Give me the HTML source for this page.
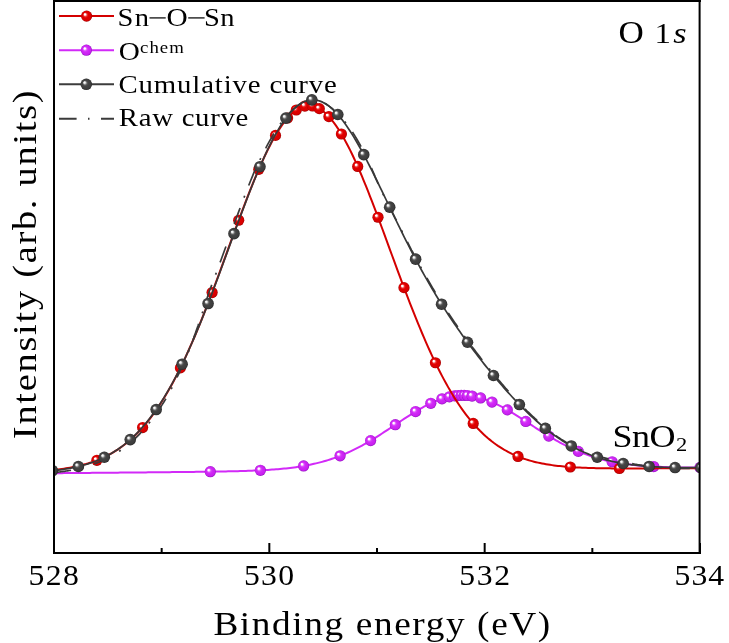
<!DOCTYPE html><html><head><meta charset="utf-8"><style>html,body{margin:0;padding:0;background:#fff;width:729px;height:643px;overflow:hidden}svg{display:block;will-change:transform}</style></head><body><svg width="729" height="643" viewBox="0 0 729 643">
<defs>
<radialGradient id="gr" cx="0.5" cy="0.5" r="0.5" fx="0.32" fy="0.32"><stop offset="0" stop-color="#ffffff"/><stop offset="0.14" stop-color="#ffffff"/><stop offset="0.34" stop-color="#ec3030"/><stop offset="0.5" stop-color="#e00000"/><stop offset="0.85" stop-color="#d80000"/><stop offset="1" stop-color="#a00000"/></radialGradient>
<radialGradient id="gm" cx="0.5" cy="0.5" r="0.5" fx="0.32" fy="0.32"><stop offset="0" stop-color="#ffffff"/><stop offset="0.14" stop-color="#ffffff"/><stop offset="0.34" stop-color="#dc50fa"/><stop offset="0.5" stop-color="#d22af8"/><stop offset="0.85" stop-color="#c820ee"/><stop offset="1" stop-color="#9010c0"/></radialGradient>
<radialGradient id="gb" cx="0.5" cy="0.5" r="0.5" fx="0.32" fy="0.32"><stop offset="0" stop-color="#ffffff"/><stop offset="0.14" stop-color="#f0f0f0"/><stop offset="0.36" stop-color="#606060"/><stop offset="0.5" stop-color="#444444"/><stop offset="0.85" stop-color="#3c3c3c"/><stop offset="1" stop-color="#262626"/></radialGradient>
<clipPath id="clip"><rect x="55" y="2" width="644" height="550"/></clipPath>
</defs>
<rect width="729" height="643" fill="#fff"/>
<g clip-path="url(#clip)">
<path d="M54.0 473.21 L56.0 473.20 L58.0 473.18 L60.0 473.16 L62.0 473.14 L64.0 473.12 L66.0 473.11 L68.0 473.09 L70.0 473.07 L72.0 473.05 L74.0 473.04 L76.0 473.02 L78.0 473.00 L80.0 472.98 L82.0 472.96 L84.0 472.95 L86.0 472.93 L88.0 472.91 L90.0 472.89 L92.0 472.87 L94.0 472.86 L96.0 472.84 L98.0 472.82 L100.0 472.80 L102.0 472.78 L104.0 472.77 L106.0 472.75 L108.0 472.73 L110.0 472.71 L112.0 472.69 L114.0 472.67 L116.0 472.66 L118.0 472.64 L120.0 472.62 L122.0 472.60 L124.0 472.58 L126.0 472.56 L128.0 472.55 L130.0 472.53 L132.0 472.51 L134.0 472.49 L136.0 472.47 L138.0 472.45 L140.0 472.43 L142.0 472.41 L144.0 472.39 L146.0 472.38 L148.0 472.36 L150.0 472.34 L152.0 472.32 L154.0 472.30 L156.0 472.28 L158.0 472.26 L160.0 472.24 L162.0 472.22 L164.0 472.20 L166.0 472.18 L168.0 472.16 L170.0 472.14 L172.0 472.12 L174.0 472.10 L176.0 472.08 L178.0 472.06 L180.0 472.04 L182.0 472.01 L184.0 471.99 L186.0 471.97 L188.0 471.95 L190.0 471.92 L192.0 471.90 L194.0 471.88 L196.0 471.85 L198.0 471.83 L200.0 471.80 L202.0 471.78 L204.0 471.75 L206.0 471.73 L208.0 471.70 L210.0 471.67 L212.0 471.64 L214.0 471.61 L216.0 471.58 L218.0 471.55 L220.0 471.51 L222.0 471.48 L224.0 471.44 L226.0 471.40 L228.0 471.36 L230.0 471.32 L232.0 471.28 L234.0 471.23 L236.0 471.18 L238.0 471.13 L240.0 471.08 L242.0 471.02 L244.0 470.96 L246.0 470.90 L248.0 470.83 L250.0 470.76 L252.0 470.68 L254.0 470.60 L256.0 470.52 L258.0 470.43 L260.0 470.33 L262.0 470.23 L264.0 470.12 L266.0 470.01 L268.0 469.89 L270.0 469.76 L272.0 469.62 L274.0 469.47 L276.0 469.32 L278.0 469.15 L280.0 468.98 L282.0 468.79 L284.0 468.60 L286.0 468.39 L288.0 468.17 L290.0 467.93 L292.0 467.68 L294.0 467.42 L296.0 467.14 L298.0 466.85 L300.0 466.54 L302.0 466.21 L304.0 465.87 L306.0 465.50 L308.0 465.12 L310.0 464.72 L312.0 464.30 L314.0 463.85 L316.0 463.39 L318.0 462.90 L320.0 462.39 L322.0 461.85 L324.0 461.29 L326.0 460.70 L328.0 460.09 L330.0 459.46 L332.0 458.79 L334.0 458.10 L336.0 457.39 L338.0 456.64 L340.0 455.87 L342.0 455.07 L344.0 454.24 L346.0 453.38 L348.0 452.50 L350.0 451.58 L352.0 450.64 L354.0 449.67 L356.0 448.68 L358.0 447.65 L360.0 446.60 L362.0 445.52 L364.0 444.42 L366.0 443.29 L368.0 442.14 L370.0 440.97 L372.0 439.77 L374.0 438.56 L376.0 437.32 L378.0 436.07 L380.0 434.80 L382.0 433.51 L384.0 432.21 L386.0 430.90 L388.0 429.58 L390.0 428.26 L392.0 426.92 L394.0 425.59 L396.0 424.25 L398.0 422.91 L400.0 421.58 L402.0 420.25 L404.0 418.93 L406.0 417.62 L408.0 416.33 L410.0 415.05 L412.0 413.78 L414.0 412.54 L416.0 411.32 L418.0 410.13 L420.0 408.97 L422.0 407.84 L424.0 406.74 L426.0 405.68 L428.0 404.66 L430.0 403.68 L432.0 402.74 L434.0 401.85 L436.0 401.01 L438.0 400.23 L440.0 399.49 L442.0 398.81 L444.0 398.18 L446.0 397.62 L448.0 397.11 L450.0 396.67 L452.0 396.28 L454.0 395.96 L456.0 395.71 L458.0 395.52 L460.0 395.40 L462.0 395.34 L464.0 395.35 L466.0 395.42 L468.0 395.56 L470.0 395.77 L472.0 396.04 L474.0 396.37 L476.0 396.77 L478.0 397.23 L480.0 397.75 L482.0 398.33 L484.0 398.96 L486.0 399.65 L488.0 400.40 L490.0 401.19 L492.0 402.04 L494.0 402.93 L496.0 403.87 L498.0 404.84 L500.0 405.86 L502.0 406.92 L504.0 408.01 L506.0 409.13 L508.0 410.28 L510.0 411.46 L512.0 412.67 L514.0 413.89 L516.0 415.14 L518.0 416.40 L520.0 417.67 L522.0 418.95 L524.0 420.25 L526.0 421.55 L528.0 422.85 L530.0 424.16 L532.0 425.46 L534.0 426.76 L536.0 428.06 L538.0 429.35 L540.0 430.63 L542.0 431.89 L544.0 433.15 L546.0 434.39 L548.0 435.62 L550.0 436.82 L552.0 438.01 L554.0 439.18 L556.0 440.33 L558.0 441.45 L560.0 442.55 L562.0 443.63 L564.0 444.68 L566.0 445.70 L568.0 446.70 L570.0 447.67 L572.0 448.61 L574.0 449.53 L576.0 450.42 L578.0 451.28 L580.0 452.11 L582.0 452.91 L584.0 453.68 L586.0 454.43 L588.0 455.15 L590.0 455.84 L592.0 456.50 L594.0 457.14 L596.0 457.75 L598.0 458.34 L600.0 458.89 L602.0 459.43 L604.0 459.94 L606.0 460.42 L608.0 460.88 L610.0 461.32 L612.0 461.74 L614.0 462.13 L616.0 462.51 L618.0 462.86 L620.0 463.20 L622.0 463.51 L624.0 463.81 L626.0 464.09 L628.0 464.36 L630.0 464.61 L632.0 464.84 L634.0 465.06 L636.0 465.26 L638.0 465.46 L640.0 465.63 L642.0 465.80 L644.0 465.96 L646.0 466.10 L648.0 466.24 L650.0 466.36 L652.0 466.48 L654.0 466.58 L656.0 466.68 L658.0 466.77 L660.0 466.86 L662.0 466.93 L664.0 467.00 L666.0 467.07 L668.0 467.13 L670.0 467.18 L672.0 467.23 L674.0 467.27 L676.0 467.31 L678.0 467.35 L680.0 467.38 L682.0 467.41 L684.0 467.43 L686.0 467.45 L688.0 467.47 L690.0 467.49 L692.0 467.50 L694.0 467.51 L696.0 467.52 L698.0 467.53 L700.0 467.54" fill="none" stroke="#d22af8" stroke-width="2"/>
<circle cx="210.30" cy="471.67" r="5.6" fill="url(#gm)"/>
<circle cx="260.40" cy="470.31" r="5.6" fill="url(#gm)"/>
<circle cx="303.60" cy="465.94" r="5.6" fill="url(#gm)"/>
<circle cx="340.10" cy="455.83" r="5.6" fill="url(#gm)"/>
<circle cx="370.60" cy="440.61" r="5.6" fill="url(#gm)"/>
<circle cx="395.30" cy="424.72" r="5.6" fill="url(#gm)"/>
<circle cx="415.60" cy="411.56" r="5.6" fill="url(#gm)"/>
<circle cx="430.80" cy="403.30" r="5.6" fill="url(#gm)"/>
<circle cx="442.00" cy="398.81" r="5.6" fill="url(#gm)"/>
<circle cx="449.40" cy="396.79" r="5.6" fill="url(#gm)"/>
<circle cx="454.60" cy="395.88" r="5.6" fill="url(#gm)"/>
<circle cx="457.90" cy="395.53" r="5.6" fill="url(#gm)"/>
<circle cx="461.20" cy="395.35" r="5.6" fill="url(#gm)"/>
<circle cx="464.20" cy="395.35" r="5.6" fill="url(#gm)"/>
<circle cx="467.40" cy="395.51" r="5.6" fill="url(#gm)"/>
<circle cx="472.10" cy="396.06" r="5.6" fill="url(#gm)"/>
<circle cx="480.60" cy="397.92" r="5.6" fill="url(#gm)"/>
<circle cx="492.00" cy="402.04" r="5.6" fill="url(#gm)"/>
<circle cx="507.30" cy="409.88" r="5.6" fill="url(#gm)"/>
<circle cx="525.80" cy="421.42" r="5.6" fill="url(#gm)"/>
<circle cx="548.80" cy="436.10" r="5.6" fill="url(#gm)"/>
<circle cx="578.30" cy="451.40" r="5.6" fill="url(#gm)"/>
<circle cx="612.10" cy="461.76" r="5.6" fill="url(#gm)"/>
<circle cx="653.70" cy="466.57" r="5.6" fill="url(#gm)"/>
<circle cx="700.00" cy="467.54" r="5.6" fill="url(#gm)"/>
<path d="M54.0 469.88 L56.0 469.66 L58.0 469.42 L60.0 469.17 L62.0 468.90 L64.0 468.62 L66.0 468.32 L68.0 467.99 L70.0 467.65 L72.0 467.28 L74.0 466.89 L76.0 466.47 L78.0 466.03 L80.0 465.57 L82.0 465.07 L84.0 464.54 L86.0 463.99 L88.0 463.39 L90.0 462.77 L92.0 462.11 L94.0 461.40 L96.0 460.66 L98.0 459.88 L100.0 459.06 L102.0 458.19 L104.0 457.27 L106.0 456.30 L108.0 455.28 L110.0 454.21 L112.0 453.09 L114.0 451.91 L116.0 450.66 L118.0 449.36 L120.0 448.00 L122.0 446.56 L124.0 445.07 L126.0 443.50 L128.0 441.86 L130.0 440.15 L132.0 438.36 L134.0 436.49 L136.0 434.55 L138.0 432.52 L140.0 430.41 L142.0 428.22 L144.0 425.94 L146.0 423.57 L148.0 421.11 L150.0 418.56 L152.0 415.92 L154.0 413.18 L156.0 410.35 L158.0 407.42 L160.0 404.40 L162.0 401.27 L164.0 398.05 L166.0 394.73 L168.0 391.31 L170.0 387.79 L172.0 384.17 L174.0 380.45 L176.0 376.63 L178.0 372.71 L180.0 368.70 L182.0 364.59 L184.0 360.38 L186.0 356.09 L188.0 351.69 L190.0 347.21 L192.0 342.65 L194.0 337.99 L196.0 333.25 L198.0 328.44 L200.0 323.55 L202.0 318.58 L204.0 313.55 L206.0 308.45 L208.0 303.28 L210.0 298.07 L212.0 292.80 L214.0 287.48 L216.0 282.12 L218.0 276.73 L220.0 271.30 L222.0 265.85 L224.0 260.38 L226.0 254.90 L228.0 249.41 L230.0 243.92 L232.0 238.44 L234.0 232.98 L236.0 227.53 L238.0 222.12 L240.0 216.74 L242.0 211.40 L244.0 206.11 L246.0 200.88 L248.0 195.72 L250.0 190.63 L252.0 185.63 L254.0 180.71 L256.0 175.88 L258.0 171.16 L260.0 166.56 L262.0 162.07 L264.0 157.70 L266.0 153.47 L268.0 149.38 L270.0 145.44 L272.0 141.65 L274.0 138.01 L276.0 134.55 L278.0 131.26 L280.0 128.14 L282.0 125.21 L284.0 122.47 L286.0 119.91 L288.0 117.56 L290.0 115.41 L292.0 113.46 L294.0 111.73 L296.0 110.20 L298.0 108.89 L300.0 107.80 L302.0 106.93 L304.0 106.28 L306.0 105.85 L308.0 105.64 L310.0 105.66 L312.0 105.90 L314.0 106.36 L316.0 107.04 L318.0 107.95 L320.0 109.07 L322.0 110.41 L324.0 111.97 L326.0 113.73 L328.0 115.71 L330.0 117.89 L332.0 120.27 L334.0 122.84 L336.0 125.61 L338.0 128.57 L340.0 131.70 L342.0 135.02 L344.0 138.50 L346.0 142.15 L348.0 145.95 L350.0 149.91 L352.0 154.01 L354.0 158.25 L356.0 162.62 L358.0 167.12 L360.0 171.73 L362.0 176.45 L364.0 181.27 L366.0 186.19 L368.0 191.19 L370.0 196.28 L372.0 201.43 L374.0 206.65 L376.0 211.92 L378.0 217.24 L380.0 222.61 L382.0 228.01 L384.0 233.43 L386.0 238.87 L388.0 244.33 L390.0 249.79 L392.0 255.25 L394.0 260.70 L396.0 266.14 L398.0 271.56 L400.0 276.95 L402.0 282.31 L404.0 287.63 L406.0 292.91 L408.0 298.14 L410.0 303.31 L412.0 308.43 L414.0 313.49 L416.0 318.48 L418.0 323.40 L420.0 328.24 L422.0 333.01 L424.0 337.70 L426.0 342.30 L428.0 346.82 L430.0 351.25 L432.0 355.59 L434.0 359.84 L436.0 363.99 L438.0 368.05 L440.0 372.01 L442.0 375.88 L444.0 379.64 L446.0 383.31 L448.0 386.87 L450.0 390.34 L452.0 393.71 L454.0 396.97 L456.0 400.14 L458.0 403.21 L460.0 406.19 L462.0 409.06 L464.0 411.84 L466.0 414.53 L468.0 417.12 L470.0 419.62 L472.0 422.02 L474.0 424.34 L476.0 426.57 L478.0 428.72 L480.0 430.78 L482.0 432.75 L484.0 434.65 L486.0 436.47 L488.0 438.21 L490.0 439.87 L492.0 441.47 L494.0 442.99 L496.0 444.44 L498.0 445.83 L500.0 447.15 L502.0 448.41 L504.0 449.61 L506.0 450.75 L508.0 451.83 L510.0 452.86 L512.0 453.84 L514.0 454.76 L516.0 455.64 L518.0 456.47 L520.0 457.26 L522.0 458.00 L524.0 458.71 L526.0 459.37 L528.0 460.00 L530.0 460.59 L532.0 461.14 L534.0 461.66 L536.0 462.16 L538.0 462.62 L540.0 463.05 L542.0 463.46 L544.0 463.84 L546.0 464.20 L548.0 464.53 L550.0 464.84 L552.0 465.13 L554.0 465.41 L556.0 465.66 L558.0 465.90 L560.0 466.11 L562.0 466.32 L564.0 466.51 L566.0 466.68 L568.0 466.85 L570.0 467.00 L572.0 467.14 L574.0 467.27 L576.0 467.38 L578.0 467.49 L580.0 467.59 L582.0 467.69 L584.0 467.77 L586.0 467.85 L588.0 467.92 L590.0 467.98 L592.0 468.04 L594.0 468.09 L596.0 468.14 L598.0 468.18 L600.0 468.22 L602.0 468.26 L604.0 468.29 L606.0 468.31 L608.0 468.34 L610.0 468.36 L612.0 468.38 L614.0 468.39 L616.0 468.41 L618.0 468.42 L620.0 468.43 L622.0 468.43 L624.0 468.44 L626.0 468.44 L628.0 468.44 L630.0 468.44 L632.0 468.44 L634.0 468.44 L636.0 468.44 L638.0 468.44 L640.0 468.43 L642.0 468.43 L644.0 468.42 L646.0 468.41 L648.0 468.41 L650.0 468.40 L652.0 468.39 L654.0 468.38 L656.0 468.37 L658.0 468.36 L660.0 468.35 L662.0 468.34 L664.0 468.33 L666.0 468.32 L668.0 468.31 L670.0 468.30 L672.0 468.29 L674.0 468.27 L676.0 468.26 L678.0 468.25 L680.0 468.24 L682.0 468.23 L684.0 468.21 L686.0 468.20 L688.0 468.19 L690.0 468.18 L692.0 468.16 L694.0 468.15 L696.0 468.14 L698.0 468.12 L700.0 468.11" fill="none" stroke="#d40000" stroke-width="2"/>
<circle cx="96.90" cy="460.32" r="5.6" fill="url(#gr)"/>
<circle cx="142.60" cy="427.55" r="5.6" fill="url(#gr)"/>
<circle cx="180.40" cy="367.89" r="5.6" fill="url(#gr)"/>
<circle cx="212.10" cy="292.53" r="5.6" fill="url(#gr)"/>
<circle cx="238.70" cy="220.23" r="5.6" fill="url(#gr)"/>
<circle cx="258.80" cy="169.31" r="5.6" fill="url(#gr)"/>
<circle cx="275.50" cy="135.40" r="5.6" fill="url(#gr)"/>
<circle cx="287.60" cy="118.02" r="5.6" fill="url(#gr)"/>
<circle cx="296.30" cy="109.99" r="5.6" fill="url(#gr)"/>
<circle cx="304.90" cy="106.06" r="5.6" fill="url(#gr)"/>
<circle cx="312.60" cy="106.01" r="5.6" fill="url(#gr)"/>
<circle cx="319.30" cy="108.66" r="5.6" fill="url(#gr)"/>
<circle cx="328.90" cy="116.66" r="5.6" fill="url(#gr)"/>
<circle cx="341.40" cy="134.00" r="5.6" fill="url(#gr)"/>
<circle cx="357.70" cy="166.44" r="5.6" fill="url(#gr)"/>
<circle cx="378.00" cy="217.24" r="5.6" fill="url(#gr)"/>
<circle cx="404.00" cy="287.63" r="5.6" fill="url(#gr)"/>
<circle cx="435.40" cy="362.76" r="5.6" fill="url(#gr)"/>
<circle cx="473.20" cy="423.43" r="5.6" fill="url(#gr)"/>
<circle cx="518.00" cy="456.47" r="5.6" fill="url(#gr)"/>
<circle cx="570.30" cy="467.02" r="5.6" fill="url(#gr)"/>
<circle cx="619.40" cy="468.42" r="5.6" fill="url(#gr)"/>
<path d="M54.2 472.49 L55.2 472.40 L56.2 472.30 L57.2 472.19 L58.2 472.08 L59.2 471.97 L60.3 471.85 L61.3 471.72 L62.3 471.59 L63.3 471.46 L64.3 471.31 L65.3 471.17 L66.3 471.01 L67.3 470.85 L68.4 470.69 L69.4 470.52 L70.4 470.34 L71.4 470.15 L72.4 469.96 L73.4 469.77 L74.4 469.56 L75.4 469.35 L76.5 469.13 L77.5 468.90 L78.5 468.67 L79.5 468.43 L80.5 468.18 L81.5 467.92 L82.6 467.66 L83.6 467.38 L84.6 467.10 L85.6 466.81 L86.6 466.51 L87.6 466.20 L88.7 465.88 L89.7 465.56 L90.7 465.22 L91.7 464.87 L92.7 464.52 L93.8 464.15 L94.8 463.77 L95.8 463.39 L96.8 462.99 L97.8 462.58 L98.9 462.16 L99.9 461.73 L100.9 461.28 L101.9 460.84 L102.9 460.38 L104.0 459.91 L105.0 459.43 L106.0 458.93 L107.0 458.42 L108.1 457.90 L109.1 457.37 L110.1 456.82 L111.2 456.26 L112.2 455.68 L113.2 455.09 L114.2 454.48 L115.3 453.86 L116.3 453.23 L117.3 452.58 L118.4 451.91 L119.4 451.23 L120.4 450.53 L121.4 449.82 L122.5 449.09 L123.5 448.34 L124.5 447.57 L125.6 446.79 L126.6 445.99 L127.6 445.18 L128.6 444.34 L129.7 443.49 L130.7 442.62 L131.7 441.73 L132.7 440.81 L133.8 439.86 L134.8 438.90 L135.8 437.92 L136.8 436.92 L137.8 435.90 L138.8 434.86 L139.8 433.80 L140.8 432.72 L141.8 431.62 L142.8 430.50 L143.8 429.36 L144.8 428.20 L145.9 427.01 L146.9 425.81 L147.9 424.59 L148.9 423.34 L149.9 422.07 L150.9 420.78 L151.9 419.47 L152.9 418.14 L153.9 416.79 L154.9 415.41 L155.9 414.01 L156.9 412.59 L157.9 411.14 L158.9 409.67 L159.9 408.18 L160.9 406.67 L161.9 405.13 L162.9 403.57 L163.9 401.99 L164.9 400.38 L165.9 398.75 L166.9 397.10 L167.8 395.39 L168.8 393.65 L169.7 391.89 L170.6 390.11 L171.6 388.31 L172.5 386.48 L173.5 384.63 L174.4 382.76 L175.3 380.86 L176.3 378.94 L177.2 377.00 L178.1 375.03 L179.1 373.04 L180.0 371.03 L180.9 368.99 L181.9 366.93 L182.8 364.85 L183.7 362.74 L184.7 360.62 L185.6 358.47 L186.5 356.29 L187.5 354.10 L188.4 351.88 L189.3 349.64 L190.3 347.38 L191.1 345.07 L192.0 342.73 L192.8 340.38 L193.7 338.00 L194.5 335.61 L195.4 333.19 L196.2 330.76 L197.1 328.30 L198.0 325.83 L198.8 323.34 L199.7 320.83 L200.5 318.31 L201.4 315.77 L202.2 313.21 L203.1 310.63 L203.9 308.04 L204.8 305.44 L205.6 302.82 L206.5 300.18 L207.3 297.53 L208.2 294.87 L209.0 292.20 L210.0 289.57 L211.0 286.92 L212.0 284.27 L213.0 281.60 L214.0 278.93 L215.0 276.24 L216.0 273.55 L217.0 270.85 L218.0 268.14 L219.0 265.43 L220.0 262.70 L221.0 259.98 L222.0 257.25 L223.0 254.51 L224.0 251.77 L225.0 249.03 L226.0 246.29 L227.0 243.55 L228.0 240.81 L229.0 238.07 L230.0 235.33 L231.0 232.59 L232.0 229.86 L233.0 227.13 L234.0 224.40 L235.0 221.69 L236.0 218.98 L237.0 216.28 L238.0 213.58 L239.0 210.90 L240.0 208.23 L241.0 205.56 L242.0 202.92 L243.0 200.28 L244.0 197.66 L245.0 195.05 L246.0 192.47 L247.0 189.89 L248.0 187.34 L249.0 184.81 L250.0 182.29 L251.0 179.80 L252.0 177.33 L253.0 174.88 L254.0 172.45 L255.1 170.05 L256.1 167.71 L257.2 165.39 L258.3 163.10 L259.4 160.84 L260.5 158.61 L261.5 156.41 L262.6 154.24 L263.7 152.11 L264.8 150.00 L265.9 147.93 L266.9 145.90 L268.0 143.90 L269.1 141.94 L270.2 140.02 L271.3 138.13 L272.3 136.29 L273.4 134.48 L274.5 132.72 L275.6 131.00 L276.7 129.32 L277.8 127.68 L278.9 126.09 L279.9 124.54 L281.0 123.04 L282.1 121.58 L283.2 120.17 L284.3 118.81 L285.4 117.49 L286.4 116.22 L287.5 115.00 L288.6 113.83 L289.7 112.71 L290.7 111.64 L291.8 110.62 L292.9 109.66 L293.9 108.74 L295.0 107.88 L296.0 107.00 L297.0 106.17 L298.0 105.40 L299.0 104.67 L300.0 103.99 L301.0 103.36 L302.0 102.79 L303.0 102.26 L304.0 101.79 L305.0 101.37 L306.0 100.99 L307.0 100.67 L308.0 100.40 L309.0 100.18 L310.0 100.02 L311.0 99.90 L312.0 99.83 L313.0 99.82 L314.0 99.85 L315.0 99.93 L316.0 100.07 L317.0 100.25 L318.0 100.48 L319.0 100.76 L320.0 101.09 L321.0 101.47 L322.0 101.89 L323.0 102.37 L324.0 102.88 L325.0 103.45 L326.0 104.06 L327.0 104.71 L328.0 105.41 L329.0 106.16 L330.0 106.95 L331.0 107.72 L332.1 108.54 L333.2 109.40 L334.2 110.31 L335.3 111.26 L336.3 112.26 L337.4 113.29 L338.5 114.36 L339.5 115.48 L340.6 116.63 L341.6 117.83 L342.7 119.06 L343.8 120.32 L344.8 121.63 L345.9 122.96 L347.0 124.34 L348.1 125.74 L349.1 127.18 L350.2 128.65 L351.3 130.16 L352.3 131.73 L353.3 133.33 L354.3 134.96 L355.3 136.61 L356.3 138.30 L357.3 140.00 L358.3 141.73 L359.3 143.49 L360.3 145.27 L361.3 147.07 L362.3 148.89 L363.3 150.73 L364.3 152.59 L365.3 154.47 L366.3 156.36 L367.2 158.34 L368.1 160.33 L369.0 162.34 L369.9 164.35 L370.7 166.39 L371.6 168.43 L372.5 170.49 L373.4 172.55 L374.3 174.63 L375.1 176.72 L376.0 178.81 L376.9 180.91 L377.8 183.02 L378.7 185.14 L379.5 187.26 L380.6 189.30 L381.6 191.35 L382.7 193.41 L383.7 195.46 L384.8 197.52 L385.8 199.58 L386.9 201.64 L387.9 203.70 L389.0 205.77 L390.0 207.82 L391.0 209.88 L392.1 211.94 L393.1 213.99 L394.2 216.04 L395.2 218.08 L396.3 220.12 L397.3 222.15 L398.4 224.18 L399.4 226.21 L400.4 228.22 L401.5 230.25 L402.5 232.27 L403.5 234.28 L404.5 236.28 L405.5 238.28 L406.5 240.26 L407.5 242.24 L408.5 244.21 L409.5 246.16 L410.5 248.11 L411.5 250.05 L412.6 251.98 L413.6 253.89 L414.6 255.80 L415.6 257.69 L416.6 259.58 L417.6 261.45 L418.6 263.31 L419.6 265.16 L420.6 266.99 L421.6 268.82 L422.6 270.63 L423.6 272.43 L424.6 274.22 L425.7 276.00 L426.7 277.77 L427.7 279.52 L428.7 281.26 L429.7 282.99 L430.7 284.71 L431.7 286.42 L432.7 288.11 L433.7 289.79 L434.7 291.46 L435.7 293.12 L436.7 294.77 L437.7 296.41 L438.7 298.03 L439.8 299.64 L440.8 301.25 L441.8 302.84 L442.8 304.42 L443.8 305.99 L444.8 307.55 L445.8 309.10 L446.8 310.64 L447.8 312.17 L448.8 313.69 L449.8 315.20 L450.8 316.70 L451.8 318.19 L452.8 319.68 L453.8 321.16 L454.8 322.63 L455.8 324.09 L456.8 325.54 L457.8 326.98 L458.8 328.42 L459.8 329.84 L460.8 331.26 L461.8 332.67 L462.8 334.08 L463.8 335.47 L464.8 336.86 L465.8 338.24 L466.8 339.61 L467.8 340.98 L468.8 342.34 L469.8 343.69 L470.8 345.04 L471.8 346.38 L472.8 347.71 L473.8 349.04 L474.8 350.36 L475.8 351.68 L476.8 352.98 L477.8 354.29 L478.8 355.58 L479.8 356.87 L480.8 358.16 L481.8 359.43 L482.8 360.70 L483.8 361.97 L484.8 363.23 L485.8 364.48 L486.8 365.73 L487.8 366.98 L488.8 368.21 L489.8 369.44 L490.8 370.67 L491.8 371.89 L492.8 373.10 L493.8 374.31 L494.8 375.51 L495.8 376.70 L496.8 377.89 L497.8 379.08 L498.8 380.25 L499.8 381.42 L500.8 382.59 L501.8 383.75 L502.8 384.90 L503.8 386.04 L504.8 387.18 L505.7 388.32 L506.7 389.44 L507.7 390.56 L508.7 391.67 L509.7 392.78 L510.7 393.88 L511.7 394.97 L512.7 396.05 L513.7 397.13 L514.7 398.20 L515.7 399.27 L516.7 400.32 L517.7 401.37 L518.7 402.41 L519.7 403.44 L520.7 404.47 L521.7 405.50 L522.7 406.51 L523.7 407.52 L524.7 408.53 L525.7 409.52 L526.6 410.51 L527.6 411.49 L528.6 412.46 L529.6 413.42 L530.6 414.37 L531.6 415.31 L532.6 416.25 L533.6 417.18 L534.6 418.10 L535.5 419.00 L536.5 419.90 L537.5 420.80 L538.5 421.68 L539.5 422.55 L540.5 423.42 L541.5 424.27 L542.5 425.12 L543.5 425.95 L544.4 426.78 L545.4 427.60 L546.4 428.41 L547.4 429.21 L548.4 430.00 L549.4 430.78 L550.4 431.55 L551.4 432.31 L552.4 433.06 L553.3 433.80 L554.3 434.53 L555.3 435.26 L556.3 435.97 L557.3 436.67 L558.3 437.36 L559.3 438.05 L560.3 438.72 L561.3 439.36 L562.3 439.98 L563.3 440.59 L564.3 441.19 L565.3 441.79 L566.3 442.37 L567.3 442.94 L568.4 443.51 L569.4 444.06 L570.4 444.60 L571.4 445.14 L572.4 445.66 L573.4 446.18 L574.4 446.68 L575.4 447.18 L576.4 447.67 L577.4 448.14 L578.4 448.61 L579.4 449.07 L580.4 449.52 L581.4 449.96 L582.4 450.39 L583.4 450.81 L584.4 451.22 L585.4 451.63 L586.4 452.02 L587.4 452.41 L588.4 452.79 L589.4 453.16 L590.4 453.52 L591.4 453.87 L592.4 454.22 L593.4 454.56 L594.4 454.88 L595.4 455.21 L596.4 455.52 L597.4 455.82 L598.4 456.12 L599.4 456.41 L600.4 456.70 L601.4 457.00 L602.4 457.29 L603.4 457.58 L604.4 457.85 L605.4 458.13 L606.4 458.39 L607.4 458.65 L608.4 458.90 L609.4 459.15 L610.3 459.39 L611.3 459.62 L612.3 459.85 L613.3 460.07 L614.3 460.29 L615.3 460.50 L616.3 460.71 L617.3 460.90 L618.3 461.10 L619.3 461.29 L620.3 461.47 L621.3 461.65 L622.3 461.82 L623.2 461.99 L624.2 462.15 L625.2 462.31 L626.2 462.52 L627.2 462.73 L628.2 462.93 L629.2 463.13 L630.2 463.32 L631.2 463.51 L632.1 463.69 L633.1 463.88 L634.1 464.05 L635.1 464.23 L636.1 464.40 L637.1 464.56 L638.1 464.72 L639.1 464.88 L640.1 465.04 L641.1 465.19 L642.0 465.34 L643.0 465.49 L644.0 465.63 L645.0 465.77 L646.0 465.91 L647.0 466.04 L648.0 466.17 L649.0 466.30 L650.0 466.43 L651.0 466.55 L652.0 466.67 L653.0 466.79 L654.0 466.91 L655.0 467.02 L656.0 467.14 L657.0 467.25 L658.0 467.35 L659.0 467.46 L660.0 467.56 L661.0 467.61 L662.0 467.66 L663.0 467.71 L664.0 467.76 L665.0 467.80 L666.0 467.85 L667.0 467.89 L668.0 467.93 L669.0 467.97 L670.0 468.00 L671.0 468.04 L672.0 468.07 L673.0 468.10 L674.0 468.13 L675.0 468.16 L676.0 468.19 L677.0 468.22 L678.0 468.24 L679.0 468.27 L680.0 468.29 L681.0 468.31 L682.0 468.33 L683.0 468.35 L684.0 468.37 L685.0 468.39 L686.0 468.40 L687.0 468.42 L688.0 468.43 L689.0 468.44 L690.0 468.45 L691.0 468.47 L692.0 468.48 L693.0 468.48 L694.0 468.49 L695.0 468.50 L696.0 468.51 L697.0 468.51 L698.0 468.52 L699.0 468.52 L700.0 468.52" fill="none" stroke="#3a3a3a" stroke-width="1.7" stroke-dasharray="17 11 2 11"/>
<path d="M54.0 470.45 L56.0 470.25 L58.0 470.04 L60.0 469.80 L62.0 469.54 L64.0 469.26 L66.0 468.95 L68.0 468.62 L70.0 468.27 L72.0 467.90 L74.0 467.49 L76.0 467.06 L78.0 466.60 L80.0 466.11 L82.0 465.59 L84.0 465.04 L86.0 464.45 L88.0 463.83 L90.0 463.17 L92.0 462.47 L94.0 461.74 L96.0 460.96 L98.0 460.14 L100.0 459.27 L102.0 458.36 L104.0 457.41 L106.0 456.40 L108.0 455.34 L110.0 454.23 L112.0 453.06 L114.0 451.84 L116.0 450.56 L118.0 449.22 L120.0 447.81 L122.0 446.34 L124.0 444.81 L126.0 443.21 L128.0 441.54 L130.0 439.79 L132.0 437.97 L134.0 436.08 L136.0 434.11 L138.0 432.06 L140.0 429.93 L142.0 427.72 L144.0 425.43 L146.0 423.05 L148.0 420.58 L150.0 418.03 L152.0 415.38 L154.0 412.65 L156.0 409.82 L158.0 406.91 L160.0 403.90 L162.0 400.79 L164.0 397.59 L166.0 394.29 L168.0 390.90 L170.0 387.41 L172.0 383.83 L174.0 380.14 L176.0 376.37 L178.0 372.49 L180.0 368.52 L182.0 364.45 L184.0 360.29 L186.0 356.04 L188.0 351.69 L190.0 347.26 L192.0 342.74 L194.0 338.13 L196.0 333.45 L198.0 328.68 L200.0 323.83 L202.0 318.91 L204.0 313.92 L206.0 308.86 L208.0 303.74 L210.0 298.57 L212.0 293.33 L214.0 288.05 L216.0 282.72 L218.0 277.36 L220.0 271.96 L222.0 266.53 L224.0 261.08 L226.0 255.61 L228.0 250.13 L230.0 244.65 L232.0 239.16 L234.0 233.69 L236.0 228.23 L238.0 222.80 L240.0 217.39 L242.0 212.02 L244.0 206.69 L246.0 201.42 L248.0 196.21 L250.0 191.06 L252.0 185.99 L254.0 181.00 L256.0 176.09 L258.0 171.29 L260.0 166.59 L262.0 162.00 L264.0 157.53 L266.0 153.18 L268.0 148.97 L270.0 144.89 L272.0 140.96 L274.0 137.18 L276.0 133.56 L278.0 130.10 L280.0 126.80 L282.0 123.68 L284.0 120.74 L286.0 117.98 L288.0 115.40 L290.0 113.01 L292.0 110.81 L294.0 108.81 L296.0 107.00 L298.0 105.40 L300.0 103.99 L302.0 102.79 L304.0 101.79 L306.0 100.99 L308.0 100.40 L310.0 100.02 L312.0 99.83 L314.0 99.85 L316.0 100.07 L318.0 100.48 L320.0 101.09 L322.0 101.89 L324.0 102.88 L326.0 104.06 L328.0 105.41 L330.0 106.95 L332.0 108.65 L334.0 110.53 L336.0 112.56 L338.0 114.76 L340.0 117.11 L342.0 119.61 L344.0 122.25 L346.0 125.03 L348.0 127.94 L350.0 130.97 L352.0 134.12 L354.0 137.39 L356.0 140.76 L358.0 144.23 L360.0 147.79 L362.0 151.44 L364.0 155.17 L366.0 158.97 L368.0 162.84 L370.0 166.76 L372.0 170.74 L374.0 174.76 L376.0 178.82 L378.0 182.92 L380.0 187.04 L382.0 191.18 L384.0 195.33 L386.0 199.50 L388.0 203.66 L390.0 207.82 L392.0 211.98 L394.0 216.12 L396.0 220.25 L398.0 224.36 L400.0 228.44 L402.0 232.50 L404.0 236.52 L406.0 240.51 L408.0 244.47 L410.0 248.39 L412.0 252.26 L414.0 256.10 L416.0 259.88 L418.0 263.63 L420.0 267.33 L422.0 270.98 L424.0 274.58 L426.0 278.14 L428.0 281.65 L430.0 285.11 L432.0 288.53 L434.0 291.89 L436.0 295.22 L438.0 298.49 L440.0 301.72 L442.0 304.91 L444.0 308.06 L446.0 311.16 L448.0 314.22 L450.0 317.25 L452.0 320.24 L454.0 323.19 L456.0 326.11 L458.0 328.99 L460.0 331.84 L462.0 334.66 L464.0 337.44 L466.0 340.20 L468.0 342.93 L470.0 345.64 L472.0 348.31 L474.0 350.97 L476.0 353.59 L478.0 356.19 L480.0 358.77 L482.0 361.32 L484.0 363.85 L486.0 366.36 L488.0 368.84 L490.0 371.30 L492.0 373.74 L494.0 376.15 L496.0 378.54 L498.0 380.90 L500.0 383.24 L502.0 385.55 L504.0 387.84 L506.0 390.11 L508.0 392.34 L510.0 394.55 L512.0 396.73 L514.0 398.89 L516.0 401.01 L518.0 403.10 L520.0 405.17 L522.0 407.20 L524.0 409.20 L526.0 411.17 L528.0 413.11 L530.0 415.01 L532.0 416.87 L534.0 418.71 L536.0 420.50 L538.0 422.26 L540.0 423.99 L542.0 425.67 L544.0 427.32 L546.0 428.94 L548.0 430.51 L550.0 432.05 L552.0 433.54 L554.0 435.00 L556.0 436.42 L558.0 437.80 L560.0 439.14 L562.0 440.44 L564.0 441.70 L566.0 442.93 L568.0 444.11 L570.0 445.26 L572.0 446.37 L574.0 447.44 L576.0 448.47 L578.0 449.46 L580.0 450.42 L582.0 451.35 L584.0 452.23 L586.0 453.08 L588.0 453.90 L590.0 454.69 L592.0 455.44 L594.0 456.16 L596.0 456.85 L598.0 457.50 L600.0 458.13 L602.0 458.73 L604.0 459.30 L606.0 459.84 L608.0 460.36 L610.0 460.85 L612.0 461.31 L614.0 461.76 L616.0 462.17 L618.0 462.57 L620.0 462.95 L622.0 463.30 L624.0 463.63 L626.0 463.95 L628.0 464.24 L630.0 464.52 L632.0 464.79 L634.0 465.03 L636.0 465.26 L638.0 465.48 L640.0 465.68 L642.0 465.87 L644.0 466.04 L646.0 466.21 L648.0 466.36 L650.0 466.50 L652.0 466.63 L654.0 466.75 L656.0 466.86 L658.0 466.97 L660.0 467.06 L662.0 467.15 L664.0 467.23 L666.0 467.30 L668.0 467.36 L670.0 467.42 L672.0 467.47 L674.0 467.52 L676.0 467.56 L678.0 467.59 L680.0 467.62 L682.0 467.65 L684.0 467.67 L686.0 467.68 L688.0 467.70 L690.0 467.70 L692.0 467.71 L694.0 467.71 L696.0 467.71 L698.0 467.70 L700.0 467.69" fill="none" stroke="#383838" stroke-width="1.7"/>
<circle cx="52.41" cy="470.60" r="5.8" fill="url(#gb)"/>
<circle cx="78.35" cy="466.52" r="5.8" fill="url(#gb)"/>
<circle cx="104.29" cy="457.26" r="5.8" fill="url(#gb)"/>
<circle cx="130.24" cy="439.58" r="5.8" fill="url(#gb)"/>
<circle cx="156.18" cy="409.57" r="5.8" fill="url(#gb)"/>
<circle cx="182.12" cy="364.20" r="5.8" fill="url(#gb)"/>
<circle cx="208.07" cy="303.57" r="5.8" fill="url(#gb)"/>
<circle cx="234.01" cy="233.66" r="5.8" fill="url(#gb)"/>
<circle cx="259.95" cy="166.70" r="5.8" fill="url(#gb)"/>
<circle cx="285.90" cy="118.11" r="5.8" fill="url(#gb)"/>
<circle cx="311.84" cy="99.84" r="5.8" fill="url(#gb)"/>
<circle cx="337.78" cy="114.52" r="5.8" fill="url(#gb)"/>
<circle cx="363.73" cy="154.66" r="5.8" fill="url(#gb)"/>
<circle cx="389.67" cy="207.14" r="5.8" fill="url(#gb)"/>
<circle cx="415.62" cy="259.16" r="5.8" fill="url(#gb)"/>
<circle cx="441.56" cy="304.21" r="5.8" fill="url(#gb)"/>
<circle cx="467.50" cy="342.26" r="5.8" fill="url(#gb)"/>
<circle cx="493.45" cy="375.48" r="5.8" fill="url(#gb)"/>
<circle cx="519.39" cy="404.54" r="5.8" fill="url(#gb)"/>
<circle cx="545.33" cy="428.40" r="5.8" fill="url(#gb)"/>
<circle cx="571.28" cy="445.97" r="5.8" fill="url(#gb)"/>
<circle cx="597.22" cy="457.25" r="5.8" fill="url(#gb)"/>
<circle cx="623.16" cy="463.50" r="5.8" fill="url(#gb)"/>
<circle cx="649.11" cy="466.44" r="5.8" fill="url(#gb)"/>
<circle cx="675.05" cy="467.54" r="5.8" fill="url(#gb)"/>
<circle cx="700.99" cy="467.68" r="5.8" fill="url(#gb)"/>
</g>
<path d="M54 0 V554 M53 553 H701 M699.6 0 V554 M53 1 H701" fill="none" stroke="#000" stroke-width="2"/>
<line x1="54.00" y1="553" x2="54.00" y2="543" stroke="#000" stroke-width="2"/>
<line x1="161.67" y1="553" x2="161.67" y2="548" stroke="#000" stroke-width="2"/>
<line x1="269.33" y1="553" x2="269.33" y2="543" stroke="#000" stroke-width="2"/>
<line x1="377.00" y1="553" x2="377.00" y2="548" stroke="#000" stroke-width="2"/>
<line x1="484.67" y1="553" x2="484.67" y2="543" stroke="#000" stroke-width="2"/>
<line x1="592.33" y1="553" x2="592.33" y2="548" stroke="#000" stroke-width="2"/>
<line x1="700.00" y1="553" x2="700.00" y2="543" stroke="#000" stroke-width="2"/>
<text class="t" transform="matrix(1.0600 0 0 1 28.60 584.85)" font-family="Liberation Serif" font-size="29.90" letter-spacing="1.240">528</text>
<text class="t" transform="matrix(1.0600 0 0 1 243.93 584.85)" font-family="Liberation Serif" font-size="29.90" letter-spacing="1.240">530</text>
<text class="t" transform="matrix(1.0600 0 0 1 459.27 584.85)" font-family="Liberation Serif" font-size="29.90" letter-spacing="1.539">532</text>
<text class="t" transform="matrix(1.0600 0 0 1 674.60 584.85)" font-family="Liberation Serif" font-size="29.90" letter-spacing="0.941">534</text>
<text class="t" transform="matrix(1.1200 0 0 1 213.38 635.00)" font-family="Liberation Serif" font-size="33.30" letter-spacing="1.439">Binding energy (eV)</text>
<g transform="translate(35.6 0) rotate(-90)"><text class="t" transform="matrix(1.1500 0 0 1 -439.13 0.00)" font-family="Liberation Serif" font-size="33.30" letter-spacing="1.541">Intensity (arb. units)</text></g>
<line x1="59" y1="16.1" x2="114" y2="16.1" stroke="#d40000" stroke-width="2"/>
<circle cx="86.60" cy="16.10" r="5.6" fill="url(#gr)"/>
<line x1="59" y1="50.2" x2="114" y2="50.2" stroke="#d22af8" stroke-width="2"/>
<circle cx="86.40" cy="50.20" r="5.6" fill="url(#gm)"/>
<line x1="59" y1="84.3" x2="114" y2="84.3" stroke="#3c3c3c" stroke-width="2"/>
<circle cx="86.30" cy="84.30" r="5.8" fill="url(#gb)"/>
<path d="M59 118.7 H76.6 M88 118.7 H89.5 M101 118.7 H114" stroke="#3a3a3a" stroke-width="2"/>
<text class="t" transform="matrix(1.1200 0 0 1 117.50 25.90)" font-family="Liberation Serif" font-size="25.50" letter-spacing="1.247">Sn</text>
<text class="t" transform="matrix(1.1520 0 0 1 166.52 25.70)" font-family="Liberation Serif" font-size="25.50" letter-spacing="0.000">O</text>
<text class="t" transform="matrix(1.1200 0 0 1 204.10 25.90)" font-family="Liberation Serif" font-size="25.50" letter-spacing="0.265">Sn</text>
<rect x="149.5" y="17.2" width="16.2" height="1.4" fill="#222"/><rect x="188.2" y="17.2" width="16.4" height="1.4" fill="#222"/>
<text class="t" transform="matrix(1.1325 0 0 1 118.73 59.90)" font-family="Liberation Serif" font-size="25.80" letter-spacing="0.000">O</text>
<text class="t" transform="matrix(1.1200 0 0 1 140.05 52.80)" font-family="Liberation Serif" font-size="16.80" letter-spacing="0.922">chem</text>
<text class="t" transform="matrix(1.1300 0 0 1 118.55 93.10)" font-family="Liberation Serif" font-size="25.50" letter-spacing="0.747">Cumulative curve</text>
<text class="t" transform="matrix(1.1300 0 0 1 118.84 126.30)" font-family="Liberation Serif" font-size="25.50" letter-spacing="0.622">Raw curve</text>
<text class="t" transform="matrix(1.0972 0 0 1 618.50 43.00)" font-family="Liberation Serif" font-size="31.90" letter-spacing="0.000">O</text>
<text class="t" transform="matrix(1.1138 0 0 1 654.54 42.80)" font-family="Liberation Serif" font-size="29.50" letter-spacing="0.000">1</text>
<text class="t" transform="matrix(1.2030 0 0 1 673.26 43.00)" font-family="Liberation Serif" font-size="28.50" letter-spacing="0.000" font-style="italic">s</text>
<text class="t" transform="matrix(1.1500 0 0 1 612.38 447.20)" font-family="Liberation Serif" font-size="31.30" letter-spacing="-0.396">SnO</text>
<text class="t" transform="matrix(1.1780 0 0 1 676.00 450.90)" font-family="Liberation Serif" font-size="19.10" letter-spacing="0.000">2</text>
</svg></body></html>
